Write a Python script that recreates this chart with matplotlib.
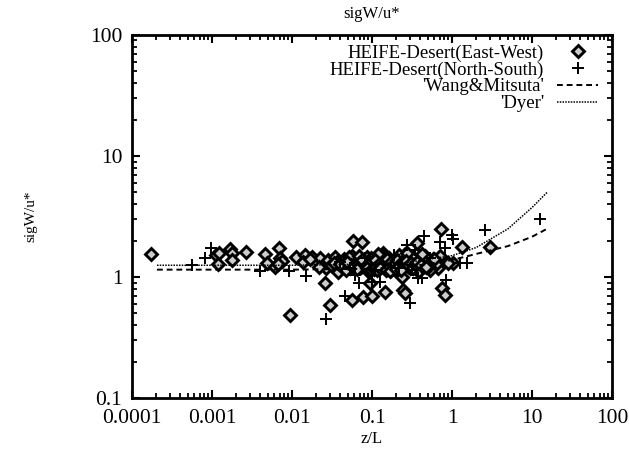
import matplotlib
matplotlib.use('Agg')
import matplotlib.pyplot as plt
from matplotlib.ticker import LogLocator, FixedLocator, FixedFormatter, NullFormatter

plt.rcParams['font.family'] = ['Liberation Serif', 'DejaVu Serif']

# HEIFE-Desert (East-West) -- diamonds
ew_x = [1.74e-4, 1.12e-3, 1.23e-3, 1.18e-3, 1.68e-3, 1.78e-3, 1.78e-3, 2.66e-3,
        4.6e-3, 4.9e-3, 6.1e-3, 6.9e-3, 7.1e-3, 7.5e-3, 6.7e-3, 9.4e-3,
        0.0112, 0.0145, 0.0137, 0.0178, 0.0224, 0.0266, 0.0259, 0.0299,
        0.0376, 0.0575, 0.075, 0.056, 0.077, 0.1, 0.095, 0.145,
        0.237, 0.244, 0.26, 0.72, 0.75, 0.82, 1.33, 1.03,
        2.99, 0.67, 0.53, 0.36, 0.33, 0.138, 0.89, 0.022, 0.017,
        # dense band
        0.028, 0.031, 0.034, 0.038, 0.042, 0.045, 0.048, 0.05, 0.053, 0.057,
        0.06, 0.063, 0.066, 0.07, 0.073, 0.078, 0.082, 0.086, 0.09, 0.095,
        0.1, 0.105, 0.11, 0.115, 0.12, 0.125, 0.13, 0.14, 0.15, 0.16,
        0.17, 0.18, 0.19, 0.2, 0.21, 0.22, 0.23, 0.25, 0.27, 0.29,
        0.31, 0.34, 0.37, 0.4, 0.44, 0.48, 0.52, 0.58, 0.64, 0.7,
        0.036, 0.044, 0.052, 0.062, 0.072, 0.085, 0.098, 0.112, 0.128, 0.145,
        0.165, 0.185, 0.205, 0.24, 0.28, 0.32, 0.38, 0.43, 0.5, 0.6,
        0.047, 0.068, 0.092, 0.135, 0.175, 0.26, 0.35, 0.46, 0.055, 0.08,
        0.118, 0.155, 0.215, 0.3, 0.42, 0.033, 0.088, 0.19, 0.27, 0.39,
        0.04, 0.049, 0.058, 0.067, 0.076, 0.084, 0.094, 0.103, 0.108, 0.122,
        0.132, 0.142, 0.152, 0.162, 0.172, 0.182, 0.196, 0.208, 0.225, 0.235,
        0.245, 0.255, 0.265, 0.285, 0.305, 0.325, 0.345, 0.365, 0.41, 0.47,
        0.065, 0.087, 0.097, 0.107, 0.117, 0.127, 0.148, 0.168, 0.198, 0.228]
ew_y = [1.55, 1.52, 1.58, 1.28, 1.70, 1.58, 1.38, 1.61,
        1.55, 1.31, 1.21, 1.74, 1.44, 1.36, 1.28, 0.485,
        1.46, 1.52, 1.33, 1.46, 1.44, 1.19, 0.89, 0.59,
        1.10, 1.99, 1.95, 0.645, 0.68, 0.70, 0.89, 0.75,
        1.0, 0.78, 0.74, 2.49, 0.81, 0.71, 1.77, 1.31,
        1.77, 1.19, 1.14, 1.91, 1.33, 1.58, 1.31, 1.21, 1.41,
        1.38, 1.25, 1.45, 1.30, 1.22, 1.40, 1.28, 1.35, 1.18, 1.48,
        1.30, 1.24, 1.42, 1.33, 1.20, 1.37, 1.27, 1.45, 1.31, 1.22,
        1.36, 1.26, 1.41, 1.19, 1.33, 1.47, 1.24, 1.35, 1.28, 1.42,
        1.21, 1.32, 1.38, 1.25, 1.45, 1.30, 1.18, 1.36, 1.27, 1.40,
        1.23, 1.34, 1.29, 1.44, 1.22, 1.35, 1.28, 1.40, 1.31, 1.50,
        1.33, 1.20, 1.47, 1.26, 1.39, 1.23, 1.44, 1.29, 1.37, 1.21,
        1.43, 1.26, 1.33, 1.39, 1.24, 1.46, 1.30, 1.36, 1.20, 1.42,
        1.15, 1.50, 1.17, 1.52, 1.14, 1.55, 1.17, 1.50, 1.25, 1.32,
        1.55, 1.16, 1.52, 1.18, 1.56, 1.30, 1.12, 1.16, 1.58, 1.12,
        1.27, 1.34, 1.22, 1.29, 1.39, 1.24, 1.33, 1.21, 1.38, 1.29,
        1.23, 1.31, 1.40, 1.26, 1.34, 1.22, 1.30, 1.37, 1.25, 1.32,
        1.20, 1.28, 1.35, 1.24, 1.31, 1.19, 1.27, 1.33, 1.26, 1.22,
        1.16, 1.19, 1.15, 1.17, 1.14, 1.18, 1.15, 1.13, 1.16, 1.14]

# HEIFE-Desert (North-South) -- plus signs
ns_x = [5.6e-4, 8.1e-4, 9.8e-4, 4.0e-3, 9.2e-3, 0.015, 0.0266, 0.046,
        0.061, 0.069, 0.126, 0.42, 0.45, 0.71, 1.0, 1.03,
        1.55, 2.58, 12.6, 0.3, 0.27, 0.375, 1.26, 0.04,
        0.082, 0.19, 0.345, 0.53, 0.22, 0.109, 0.053, 0.1,
        0.32, 0.82, 0.85]
ns_y = [1.26, 1.44, 1.74, 1.12, 1.12, 1.02, 0.45, 0.70,
        1.04, 0.89, 0.91, 0.98, 2.18, 1.95, 2.22, 2.06,
        1.31, 2.45, 3.0, 0.61, 1.84, 0.98, 1.31, 1.33,
        1.44, 1.52, 1.67, 1.44, 1.19, 1.14, 1.19, 0.91,
        1.14, 1.73, 0.95]

# model curves, values
wm_x = [2.05e-4, 0.01, 0.1, 0.3, 1, 2, 5, 10, 15.4]
wm_y = [1.15, 1.15, 1.17, 1.22, 1.38, 1.55, 1.8, 2.15, 2.5]
dyer_x = [2.05e-4, 0.01, 0.1, 0.3, 1, 2, 5, 10, 15.4]
dyer_y = [1.25, 1.25, 1.28, 1.33, 1.5, 1.75, 2.5, 3.75, 5.0]

fig = plt.figure(figsize=(6.29, 4.51), dpi=100)
ax = fig.add_axes([0.2099, 0.1175, 0.7631, 0.805])

ax.plot(ew_x, ew_y, linestyle='none', marker='D', markersize=6,
        markerfacecolor='0.8', markeredgecolor='black', markeredgewidth=2.1,
        label='HEIFE-Desert(East-West)')
ax.plot(ns_x, ns_y, linestyle='none', marker='+', markersize=9,
        color='black', markeredgewidth=1.4, label='HEIFE-Desert(North-South)')
ax.plot(wm_x, wm_y, color='black', linestyle=(0, (3, 2)), linewidth=1.4,
        label="'Wang&Mitsuta'")
ax.plot(dyer_x, dyer_y, color='black', linestyle=(0, (1, 0.8)), linewidth=1.1,
        label="'Dyer'")

ax.set_xscale('log')
ax.set_yscale('log')
ax.set_xlim(1e-4, 100)
ax.set_ylim(0.1, 100)

xt = [1e-4, 1e-3, 1e-2, 1e-1, 1, 10, 100]
ax.xaxis.set_major_locator(FixedLocator(xt))
ax.xaxis.set_major_formatter(FixedFormatter(['0.0001', '0.001', '0.01', '0.1', '1', '10', '100']))
yt = [0.1, 1, 10, 100]
ax.yaxis.set_major_locator(FixedLocator(yt))
ax.yaxis.set_major_formatter(FixedFormatter(['0.1', '1', '10', '100']))
ax.xaxis.set_minor_locator(LogLocator(base=10, subs=range(2, 10), numticks=20))
ax.yaxis.set_minor_locator(LogLocator(base=10, subs=range(2, 10), numticks=20))
ax.xaxis.set_minor_formatter(NullFormatter())
ax.yaxis.set_minor_formatter(NullFormatter())

ax.tick_params(which='both', direction='in', top=True, right=True, labelsize=15.5)
ax.tick_params(which='major', length=6, width=1.5)
ax.tick_params(which='minor', length=3.5, width=1.3)
ax.tick_params(axis='y', which='major', pad=7)
ax.tick_params(axis='x', which='major', pad=8)
for s in ax.spines.values():
    s.set_linewidth(2)

ax.set_title('sigW/u*', fontsize=12, pad=12)
ax.set_xlabel('z/L', fontsize=12, labelpad=2)
ax.set_ylabel('sigW/u*', fontsize=11, labelpad=38)

ax.legend(loc='upper right', bbox_to_anchor=(0.995, 1.005), frameon=False,
          markerfirst=False, fontsize=13.5, handlelength=2.2, handletextpad=0.7,
          labelspacing=-0.02, borderaxespad=0.3, borderpad=0.3)

fig.savefig('out.png', dpi=100)
